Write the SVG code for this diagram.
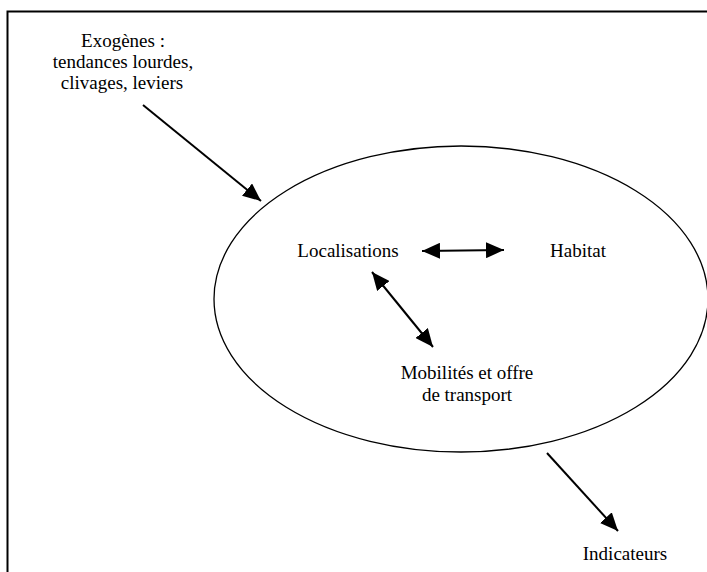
<svg xmlns="http://www.w3.org/2000/svg" width="707" height="572" viewBox="0 0 707 572">
<style>
text{font-family:"Liberation Serif","Times New Roman",serif;font-size:19px;fill:#000;text-anchor:middle}
.frame{stroke:#000;stroke-width:2;fill:none}
.conn{stroke:#000;stroke-width:2;fill:none}
</style>
<defs>
<marker id="ah" viewBox="0 0 18 16" refX="18" refY="8" markerWidth="18" markerHeight="16" markerUnits="userSpaceOnUse" orient="auto-start-reverse">
<path d="M0,0 L18,8 L0,16 Z" fill="#000"/>
</marker>
</defs>
<rect width="707" height="572" fill="#fff"/>
<path class="frame" d="M7.5,572 V11.5 H707"/>
<g id="system">
<ellipse cx="461" cy="299" rx="247" ry="153" fill="none" stroke="#000" stroke-width="1.3"/>
</g>
<g id="exogenes">
<text x="123" y="47">Exogènes :</text>
<text x="123" y="68">tendances lourdes,</text>
<text x="122" y="89">clivages, leviers</text>
</g>
<g id="localisations"><text x="348" y="257">Localisations</text></g>
<g id="habitat"><text x="578" y="257">Habitat</text></g>
<g id="mobilites">
<text x="467" y="379">Mobilités et offre</text>
<text x="467" y="401">de transport</text>
</g>
<g id="indicateurs"><text x="625" y="560">Indicateurs</text></g>
<g id="connectors">
<line class="conn" x1="143" y1="105" x2="261" y2="201" marker-end="url(#ah)"/>
<line class="conn" x1="422" y1="251" x2="504" y2="250" marker-start="url(#ah)" marker-end="url(#ah)"/>
<line class="conn" x1="372" y1="272" x2="433" y2="347" marker-start="url(#ah)" marker-end="url(#ah)"/>
<line class="conn" x1="547" y1="453" x2="618" y2="531" marker-end="url(#ah)"/>
</g>
</svg>
